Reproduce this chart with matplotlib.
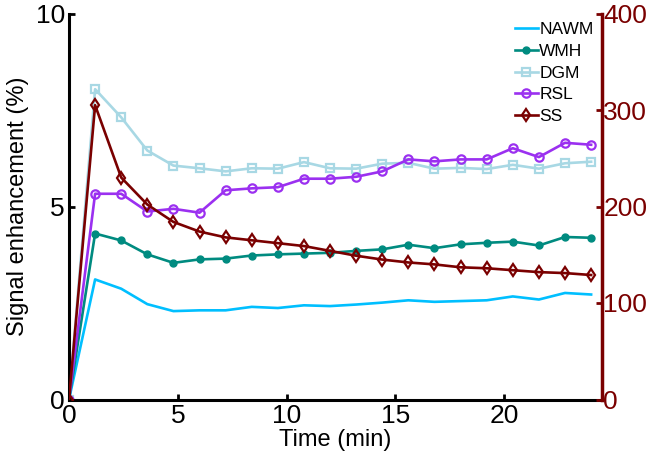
import matplotlib
matplotlib.use("Agg")
import matplotlib.pyplot as plt
import numpy as np

plt.rcParams['font.family'] = ['Liberation Sans', 'DejaVu Sans']

time = [0, 1.2, 2.4, 3.6, 4.8, 6.0, 7.2, 8.4, 9.6, 10.8, 12.0, 13.2, 14.4,
        15.6, 16.8, 18.0, 19.2, 20.4, 21.6, 22.8, 24.0]
nawm = [0, 3.11, 2.87, 2.47, 2.29, 2.31, 2.31, 2.40, 2.37, 2.44, 2.42, 2.46,
        2.51, 2.57, 2.53, 2.55, 2.57, 2.67, 2.59, 2.76, 2.72]
wmh = [0, 4.30, 4.12, 3.76, 3.54, 3.63, 3.65, 3.73, 3.76, 3.78, 3.80, 3.85,
       3.89, 4.01, 3.92, 4.02, 4.06, 4.09, 3.99, 4.21, 4.19]
dgm = [0, 8.04, 7.31, 6.45, 6.06, 5.99, 5.91, 5.99, 5.98, 6.15, 5.99, 5.98,
       6.11, 6.13, 5.98, 6.00, 5.97, 6.08, 5.98, 6.12, 6.16]
rsl = [0, 5.33, 5.33, 4.87, 4.94, 4.84, 5.42, 5.47, 5.50, 5.72, 5.72, 5.77,
       5.91, 6.22, 6.17, 6.22, 6.22, 6.51, 6.28, 6.65, 6.60]
ss = [0, 305, 230, 202, 184, 174, 168, 165, 162, 159, 154, 149,
      145, 142, 140, 137, 136, 134, 132, 131, 129]

c_nawm = '#00BFFF'
c_wmh = '#008B80'
c_dgm = '#A8D8E4'
c_rsl = '#9B30F0'
c_ss = '#7A0000'

fig = plt.figure(figsize=(6.55, 4.63), dpi=100)
ax = fig.add_axes([69/655, 1-399.5/463, (602-69)/655, (399.5-13.5)/463])
ax2 = ax.twinx()

lw = 1.9
h1, = ax.plot(time, nawm, color=c_nawm, lw=lw, label='NAWM')
h2, = ax.plot(time, wmh, color=c_wmh, lw=lw, marker='o', ms=5,
              mfc=c_wmh, mec=c_wmh, label='WMH')
h3, = ax.plot(time, dgm, color=c_dgm, lw=lw, marker='s', ms=5.5,
              mfc='none', mew=1.6, mec=c_dgm, label='DGM')
h4, = ax.plot(time, rsl, color=c_rsl, lw=lw, marker='o', ms=6,
              mfc='none', mew=1.6, mec=c_rsl, label='RSL')
h5, = ax2.plot(time, ss, color=c_ss, lw=lw, marker='d', ms=6,
               mfc='none', mew=1.6, mec=c_ss, label='SS')

ax.set_xlim(0, 24.5)
ax.set_ylim(0, 10)
ax2.set_ylim(0, 400)
ax.set_xticks([0, 5, 10, 15, 20])
ax.set_yticks([0, 5, 10])
ax2.set_yticks([0, 100, 200, 300, 400])

ax.spines['top'].set_visible(False)
ax2.spines['top'].set_visible(False)
for s in ['left', 'bottom']:
    ax.spines[s].set_linewidth(2.2)
    ax.spines[s].set_color('black')
ax2.spines['right'].set_linewidth(2.5)
ax2.spines['right'].set_color(c_ss)
ax2.spines['left'].set_visible(False)
ax2.spines['bottom'].set_visible(False)
ax.spines['right'].set_visible(False)

ax.tick_params(direction='in', length=4, width=2, labelsize=19)
ax.tick_params(axis='x', pad=3)
ax.tick_params(axis='y', pad=3)
ax2.tick_params(direction='in', length=4, width=2, labelsize=19, pad=1,
                colors=c_ss)

ax.set_xlabel('Time (min)', fontsize=17, labelpad=1)
ax.set_ylabel('Signal enhancement (%)', fontsize=17, labelpad=5)

leg = fig.legend([h1, h2, h3, h4, h5], ['NAWM', 'WMH', 'DGM', 'RSL', 'SS'],
                 loc='upper left', bbox_to_anchor=(508/655, 1-15/463),
                 bbox_transform=fig.transFigure, frameon=False,
                 fontsize=12.5, handlelength=1.3, handletextpad=0.1,
                 labelspacing=0.38, borderaxespad=0.0)

fig.savefig('out.png', dpi=100)
